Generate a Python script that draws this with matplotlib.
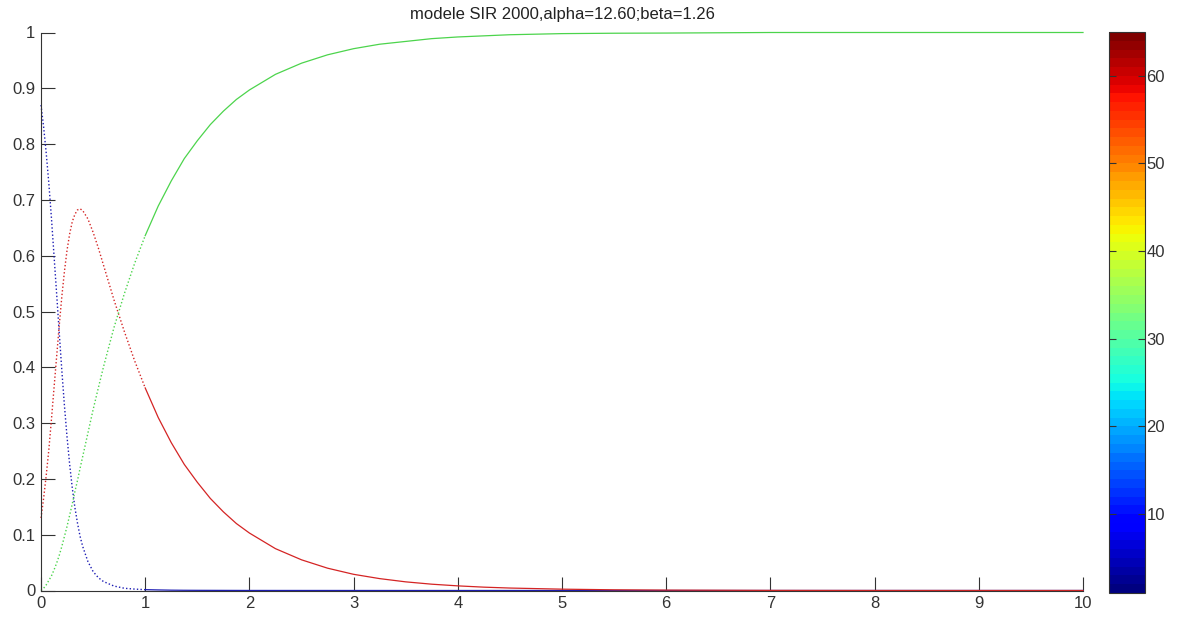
import numpy as np
import matplotlib
matplotlib.use('Agg')
import matplotlib.pyplot as plt
from matplotlib.colors import ListedColormap, Normalize
from matplotlib.cm import ScalarMappable

plt.rcParams['font.family'] = ['Liberation Sans', 'DejaVu Sans']

# values
t = [0, 0.025, 0.05, 0.075, 0.1, 0.125, 0.15, 0.175, 0.2, 0.225, 0.25, 0.275,
     0.3, 0.325, 0.35, 0.375, 0.4, 0.45, 0.5, 0.55, 0.6, 0.7, 0.8, 0.9, 1.0,
     1.125, 1.25, 1.375, 1.5, 1.625, 1.75, 1.875, 2.0, 2.25, 2.5, 2.75, 3.0, 3.25, 3.5,
     3.75, 4.0, 4.25, 4.5, 5.0, 5.5, 6, 7, 8, 9, 10]
S = [0.87, 0.831, 0.784, 0.730, 0.668, 0.600, 0.532, 0.462, 0.394, 0.331, 0.275, 0.226,
     0.184, 0.149, 0.121, 0.097, 0.079, 0.052, 0.034, 0.023, 0.016, 0.008, 0.004, 0.0025, 0.0015,
     0.001, 0.0006, 0.0004, 0.0003, 0.00025, 0.0002, 0.00015, 0.0001, 0.00008, 0.00007, 0.00006,
     0.00005, 0.00005, 0.00004, 0.00004, 0.00004, 0.00004, 0.00004, 0.00004, 0.00004,
     0.00004, 0.00004, 0.00004, 0.00004, 0.00004]
I = [0.13, 0.165, 0.206, 0.252, 0.306, 0.363, 0.419, 0.475, 0.527, 0.572, 0.610, 0.639,
     0.661, 0.674, 0.682, 0.684, 0.681, 0.666, 0.642, 0.614, 0.583, 0.521, 0.464, 0.411, 0.363,
     0.310, 0.265, 0.226, 0.194, 0.165, 0.141, 0.120, 0.103, 0.075, 0.055, 0.040, 0.029, 0.0213,
     0.0155, 0.0113, 0.0083, 0.0060, 0.0044, 0.0024, 0.00125,
     0.0007, 0.0002, 0.00005, 0.00002, 0.000004]
R = [0.0, 0.004, 0.010, 0.018, 0.026, 0.037, 0.049, 0.063, 0.079, 0.097, 0.115, 0.135,
     0.155, 0.177, 0.197, 0.219, 0.240, 0.282, 0.324, 0.363, 0.401, 0.471, 0.532, 0.587, 0.636,
     0.689, 0.734, 0.774, 0.806, 0.835, 0.859, 0.880, 0.897, 0.925, 0.945, 0.960, 0.971, 0.979,
     0.984, 0.989, 0.992, 0.994, 0.996, 0.998, 0.9987,
     0.999, 1.0, 1.0, 1.0, 1.0]

fig = plt.figure(figsize=(11.86, 6.19), dpi=100)
ax = fig.add_axes([41 / 1186, 1 - 590.5 / 619, (1083 - 41) / 1186, (590.5 - 32.5) / 619])

# the steep early part looks dotted (sparse time steps), the rest reads as a solid line
k = t.index(1.0) + 1
curves = [(S, '#1c1cb4'), (I, '#d42424'), (R, '#4cd44c')]
for y, c in curves:
    ax.plot(t[:k], y[:k], color=c, lw=1.0, ls=(0, (1, 1.6)), clip_on=False)
    ax.plot(t[k - 1:], y[k - 1:], color=c, lw=0.9, clip_on=False)

ax.set_xlim(0, 10)
ax.set_ylim(0, 1)
ax.set_xticks(range(0, 11))
ax.set_yticks(np.arange(0, 1.01, 0.1))
ax.set_yticklabels(['0', '0.1', '0.2', '0.3', '0.4', '0.5', '0.6', '0.7', '0.8', '0.9', '1'])
ax.spines['top'].set_visible(False)
ax.spines['right'].set_visible(False)
ax.spines['left'].set_color('#333333')
ax.spines['bottom'].set_color('#333333')
ax.tick_params(direction='in', length=10, width=0.8, labelsize=12,
               colors='#333333', pad=4)
ax.set_title('modele SIR 2000,alpha=12.60;beta=1.26', fontsize=12, pad=10, color='#222222')

# jet colorbar, 64 colours
cax = fig.add_axes([1109 / 1186, 1 - 593 / 619, 36 / 1186, (593 - 32) / 619])
jet64 = ListedColormap(plt.get_cmap('jet')(np.linspace(0, 1, 64)))
sm = ScalarMappable(norm=Normalize(1, 65), cmap=jet64)
cb = fig.colorbar(sm, cax=cax)
cb.set_ticks([10, 20, 30, 40, 50, 60])
cb.outline.set_edgecolor('#333333')
cb.outline.set_linewidth(0.8)
cax.tick_params(direction='in', left=True, right=True, labelleft=False, labelright=True,
                length=5, width=0.8, labelsize=12, colors='#333333', pad=1)

fig.savefig('out.png', dpi=100)
